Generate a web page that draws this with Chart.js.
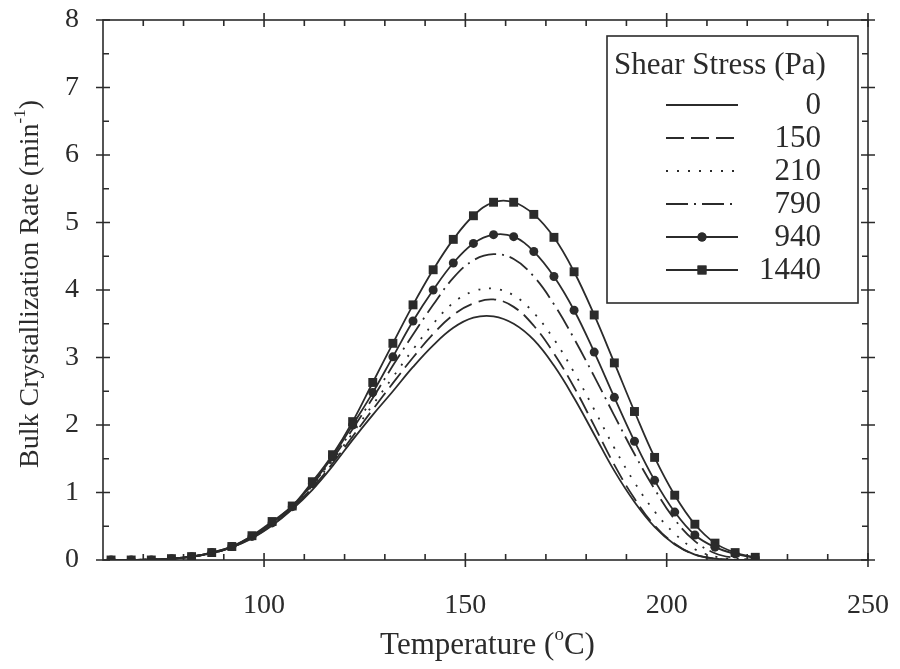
<!DOCTYPE html>
<html>
<head>
<meta charset="utf-8">
<script src="https://cdn.jsdelivr.net/npm/chart.js@4.4.1/dist/chart.umd.min.js"></script>
<style>
  html, body { margin: 0; padding: 0; background: #ffffff; }
  #wrap { position: relative; width: 900px; height: 669px; }
</style>
</head>
<body>
<div id="wrap"><canvas id="chart"></canvas></div>
<script>
// Bulk crystallization rate vs temperature for several shear stresses
const temperatures = [62, 67, 72, 77, 82, 87, 92, 97, 102, 107, 112, 117, 122, 127, 132, 137, 142,
    147, 152, 157, 162, 167, 172, 177, 182, 187, 192, 197, 202, 207, 212, 217, 222];

const rate0 = [0, 0, 0.01, 0.02, 0.05, 0.1, 0.19, 0.32, 0.51, 0.75, 1.04, 1.39, 1.78, 2.15, 2.5, 2.86, 3.18,
    3.44, 3.59, 3.61, 3.5, 3.26, 2.88, 2.4, 1.86, 1.32, 0.86, 0.49, 0.23, 0.08, 0.02, 0, 0];
const rate150 = [0, 0, 0.01, 0.02, 0.05, 0.1, 0.19, 0.33, 0.52, 0.77, 1.07, 1.43, 1.83, 2.23, 2.62, 3.0, 3.35,
    3.63, 3.8, 3.86, 3.75, 3.47, 3.06, 2.56, 1.99, 1.41, 0.91, 0.51, 0.24, 0.08, 0.02, 0, 0];
const rate210 = [0, 0, 0.01, 0.02, 0.05, 0.1, 0.19, 0.33, 0.53, 0.78, 1.1, 1.47, 1.88, 2.3, 2.71, 3.12, 3.5,
    3.81, 3.98, 4.02, 3.92, 3.66, 3.27, 2.78, 2.23, 1.66, 1.15, 0.72, 0.39, 0.16, 0.05, 0.01, 0];
const rate790 = [0, 0, 0.01, 0.02, 0.05, 0.1, 0.19, 0.34, 0.55, 0.8, 1.12, 1.5, 1.94, 2.4, 2.88, 3.34, 3.78,
    4.18, 4.44, 4.53, 4.46, 4.2, 3.79, 3.28, 2.72, 2.14, 1.57, 1.05, 0.6, 0.28, 0.1, 0.03, 0];
const rate940 = [0, 0, 0, 0.02, 0.05, 0.11, 0.2, 0.35, 0.55, 0.79, 1.13, 1.53, 2.0, 2.48, 3.01, 3.54, 4.0,
    4.4, 4.69, 4.82, 4.79, 4.57, 4.2, 3.7, 3.08, 2.41, 1.76, 1.18, 0.71, 0.37, 0.19, 0.09, 0.03];
const rate1440 = [0, 0, 0, 0.02, 0.05, 0.11, 0.2, 0.36, 0.57, 0.8, 1.16, 1.56, 2.05, 2.63, 3.21, 3.78, 4.3,
    4.75, 5.1, 5.3, 5.3, 5.12, 4.78, 4.27, 3.63, 2.92, 2.2, 1.52, 0.96, 0.53, 0.25, 0.11, 0.04];

const stressLabels = ['0', '150', '210', '790', '940', '1440'];
const xTickValues = [100, 150, 200, 250];
const yTickValues = [0, 1, 2, 3, 4, 5, 6, 7, 8];

const ink = '#2b2b2b';
const serif = '"Liberation Serif", "Times New Roman", serif';

function series(label, values, dash, pointStyle, radius) {
    return {
        label: label,
        data: temperatures.map(function (t, i) { return { x: t, y: values[i] }; }),
        borderColor: ink,
        backgroundColor: ink,
        borderWidth: 1.8,
        borderDash: dash,
        pointStyle: pointStyle || 'circle',
        pointRadius: radius || 0,
        pointBorderWidth: 0,
        tension: 0.4,
        fill: false
    };
}

const datasets = [
    series(stressLabels[0], rate0, []),
    series(stressLabels[1], rate150, [18, 7]),
    series(stressLabels[2], rate210, [2, 9]),
    series(stressLabels[3], rate790, [22, 6, 2, 6]),
    series(stressLabels[4], rate940, [], 'circle', 4.5),
    series(stressLabels[5], rate1440, [], 'rect', 6.3)
];

// Frame on all four sides; major ticks cross the axis, minor ticks point inward
const frameTicks = {
    id: 'frameTicks',
    afterDraw: function (chart) {
        const ctx = chart.ctx;
        const a = chart.chartArea;
        const x = chart.scales.x;
        const y = chart.scales.y;
        ctx.save();
        ctx.strokeStyle = ink;
        ctx.lineWidth = 1.6;
        ctx.strokeRect(a.left, a.top, a.right - a.left, a.bottom - a.top);
        ctx.beginPath();
        for (let v = 70; v <= 250; v += 10) {
            const px = x.getPixelForValue(v);
            const major = v % 50 === 0;
            if (major) {
                ctx.moveTo(px, a.bottom - 7); ctx.lineTo(px, a.bottom + 7);
                ctx.moveTo(px, a.top - 7); ctx.lineTo(px, a.top + 7);
            } else {
                ctx.moveTo(px, a.bottom); ctx.lineTo(px, a.bottom - 6);
                ctx.moveTo(px, a.top); ctx.lineTo(px, a.top + 6);
            }
        }
        for (let v = 0; v <= 8; v += 0.5) {
            const py = y.getPixelForValue(v);
            if (v % 1 === 0) {
                ctx.moveTo(a.left - 7, py); ctx.lineTo(a.left + 7, py);
                ctx.moveTo(a.right - 7, py); ctx.lineTo(a.right + 7, py);
            } else {
                ctx.moveTo(a.left, py); ctx.lineTo(a.left + 6, py);
                ctx.moveTo(a.right, py); ctx.lineTo(a.right - 6, py);
            }
        }
        ctx.stroke();
        ctx.restore();
    }
};

// Draws a run of text pieces, some of them raised as superscripts, centred on (cx, cy)
function drawRich(ctx, parts, cx, cy, size) {
    const big = size + 'px ' + serif;
    const small = Math.round(size * 0.62) + 'px ' + serif;
    let total = 0;
    parts.forEach(function (p) {
        ctx.font = p.sup ? small : big;
        total += ctx.measureText(p.text).width;
    });
    let cur = cx - total / 2;
    ctx.textAlign = 'left';
    ctx.textBaseline = 'middle';
    parts.forEach(function (p) {
        ctx.font = p.sup ? small : big;
        ctx.fillText(p.text, cur, p.sup ? cy - size * 0.36 : cy);
        cur += ctx.measureText(p.text).width;
    });
}

const axisTitles = {
    id: 'axisTitles',
    afterDraw: function (chart) {
        const ctx = chart.ctx;
        const a = chart.chartArea;
        ctx.save();
        ctx.fillStyle = ink;
        drawRich(ctx, [{ text: 'Temperature (' }, { text: 'o', sup: true }, { text: 'C)' }],
            (a.left + a.right) / 2 + 2, 646, 31);
        ctx.translate(31, (a.top + a.bottom) / 2 - 6);
        ctx.rotate(-Math.PI / 2);
        drawRich(ctx, [{ text: 'Bulk Crystallization Rate (min' }, { text: '-1', sup: true }, { text: ')' }],
            0, 0, 28);
        ctx.restore();
    }
};

// Boxed legend with the line samples on the left and right-aligned stress values
const stressLegend = {
    id: 'stressLegend',
    afterDraw: function (chart) {
        const ctx = chart.ctx;
        ctx.save();
        ctx.strokeStyle = ink;
        ctx.fillStyle = ink;
        ctx.lineWidth = 1.6;
        ctx.strokeRect(607, 36, 251, 267);
        ctx.font = '31px ' + serif;
        ctx.textAlign = 'left';
        ctx.textBaseline = 'middle';
        ctx.fillText('Shear Stress (Pa)', 614, 66);
        chart.data.datasets.forEach(function (ds, i) {
            const cy = 105 + i * 33;
            ctx.save();
            ctx.lineWidth = ds.borderWidth;
            ctx.setLineDash(ds.borderDash);
            ctx.beginPath();
            ctx.moveTo(666, cy);
            ctx.lineTo(738, cy);
            ctx.stroke();
            ctx.restore();
            if (ds.pointRadius > 0) {
                Chart.helpers.drawPoint(ctx, { pointStyle: ds.pointStyle, radius: ds.pointRadius, rotation: 0, borderWidth: 0 }, 702, cy);
                ctx.fill();
            }
            ctx.textAlign = 'right';
            ctx.fillText(ds.label, 821, cy + 1);
        });
        ctx.restore();
    }
};

const tickFont = { family: serif, size: 28 };

new Chart(document.getElementById('chart'), {
    type: 'line',
    data: { datasets: datasets },
    options: {
        responsive: true,
        maintainAspectRatio: false,
        animation: false,
        layout: { padding: { top: 20, right: 32, left: 0, bottom: 0 } },
        scales: {
            x: {
                type: 'linear',
                min: 60,
                max: 250,
                afterBuildTicks: function (scale) {
                    scale.ticks = xTickValues.map(function (v) { return { value: v }; });
                },
                afterFit: function (scale) {
                    scale.height = 109;
                    scale.paddingLeft = 0;
                    scale.paddingRight = 0;
                },
                grid: { display: false, drawTicks: false },
                border: { display: false },
                ticks: { font: tickFont, color: ink, padding: 29, maxRotation: 0 }
            },
            y: {
                min: 0,
                max: 8,
                afterBuildTicks: function (scale) {
                    scale.ticks = yTickValues.map(function (v) { return { value: v }; });
                },
                afterFit: function (scale) {
                    scale.width = 103;
                    scale.paddingTop = 0;
                    scale.paddingBottom = 0;
                },
                grid: { display: false, drawTicks: false },
                border: { display: false },
                ticks: { font: tickFont, color: ink, padding: 24 }
            }
        },
        plugins: {
            legend: { display: false },
            tooltip: { enabled: false }
        }
    },
    plugins: [frameTicks, axisTitles, stressLegend]
});
</script>
</body>
</html>
